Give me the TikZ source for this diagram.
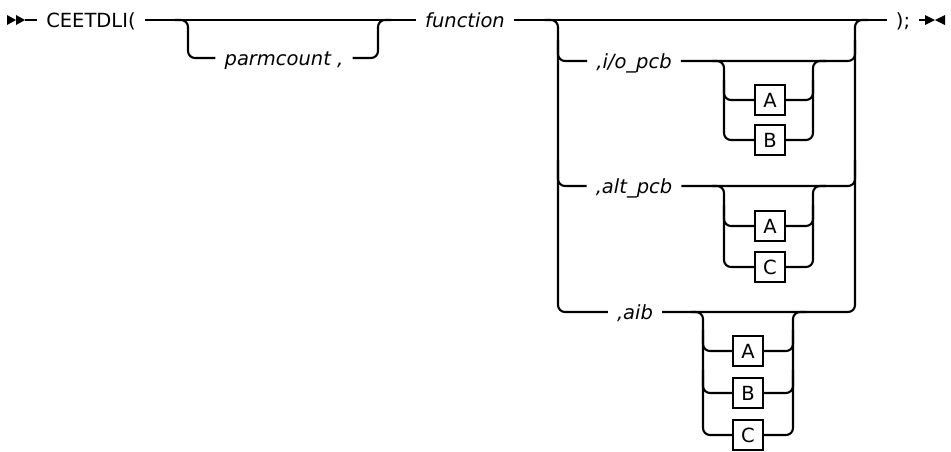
\documentclass[tikz,border=0pt]{standalone}
\usepackage{fontspec}
\setmainfont{DejaVu Sans}
\usetikzlibrary{positioning}

\begin{document}
\begin{tikzpicture}[
  x=1pt,y=-1pt,
  rail/.style={line width=2.1pt,rounded corners=7pt},
  kw/.style ={font=\fontsize{19.5}{22}\selectfont,inner xsep=9pt,inner ysep=0pt,
              text height=14pt,text depth=0pt},
  var/.style={font=\fontsize{19.5}{22}\selectfont\itshape,inner xsep=9pt,inner ysep=0pt,
              text height=14pt,text depth=0pt},
  opt/.style={draw,line width=1.7pt,minimum width=30pt,minimum height=30pt,inner sep=0pt,
              font=\fontsize{19.5}{22}\selectfont,text height=14pt,text depth=0pt},
  tip/.style={fill=black},
]
\useasboundingbox (0,0) rectangle (951,451);

%% ─── main line ───────────────────────────────────────────────────────────────
\coordinate (beg) at (25,20);
\coordinate (fin) at (925,20);
\fill[tip] (7,15) -- (16,20) -- (7,25) -- cycle;
\fill[tip] (16,15) -- (25,20) -- (16,25) -- cycle;
\node[kw]  (ceet)  at (91,20)  {CEETDLI(};
\node[var] (func)  at (465,20) {function};
\node[kw]  (close) at (903,20) {);};

\draw[rail] (beg)--(ceet.west);
\draw[rail] (ceet.east)--(func.west);
\draw[rail] (func.east)--(close.west);
\draw[rail] (close.east)--(fin);
\fill[tip] (925,15) -- (935,20) -- (925,25) -- cycle;
\fill[tip] (945,15) -- (935,20) -- (945,25) -- cycle;

%% ─── parmcount ───────────────────────────────────────────────────────────────
\node[var] (parm) at (284,58) {parmcount ,};
\draw[rail] (175,20) -| (188,58) -- (parm.west);
\draw[rail] (parm.east) -| (378,20) -- (391,20);

%% ─── pcb choice ──────────────────────────────────────────────────────────────
\node[var] (io)  at (634,61)  {,i/o\_pcb};
\node[var] (alt) at (634,186) {,alt\_pcb};
\node[var] (aib) at (635,312) {,aib};

\draw[rail] (545,20) -| (558,312) -- (aib.west);
\draw[rail] (558,40) |- (io.west);
\draw[rail] (558,160) |- (alt.west);
\draw[rail] (io.east) -| (855,40);
\draw[rail] (alt.east) -| (855,160);
\draw[rail] (aib.east) -| (855,20) -- (868,20);

%% ─── i/o_pcb options ─────────────────────────────────────────────────────────
\node[opt] (ioA) at (770,100) {A};
\node[opt] (ioB) at (770,140) {B};
\draw[rail] (712,61) -| (724,140) -- (ioB.west);
\draw[rail] (724,80) |- (ioA.west);
\draw[rail] (ioB.east) -| (813,61) -- (826,61);
\draw[rail] (ioA.east) -| (813,80);

%% ─── alt_pcb options ─────────────────────────────────────────────────────────
\node[opt] (altA) at (770,226) {A};
\node[opt] (altC) at (770,267) {C};
\draw[rail] (712,186) -| (724,267) -- (altC.west);
\draw[rail] (724,205) |- (altA.west);
\draw[rail] (altC.east) -| (813,186) -- (826,186);
\draw[rail] (altA.east) -| (813,205);

%% ─── aib options ─────────────────────────────────────────────────────────────
\node[opt] (aibA) at (748,351) {A};
\node[opt] (aibB) at (748,393) {B};
\node[opt] (aibC) at (748,435) {C};
\draw[rail] (691,312) -| (703,435) -- (aibC.west);
\draw[rail] (703,330) |- (aibA.west);
\draw[rail] (703,370) |- (aibB.west);
\draw[rail] (aibC.east) -| (793,312) -- (806,312);
\draw[rail] (aibA.east) -| (793,330);
\draw[rail] (aibB.east) -| (793,370);

\end{tikzpicture}
\end{document}
